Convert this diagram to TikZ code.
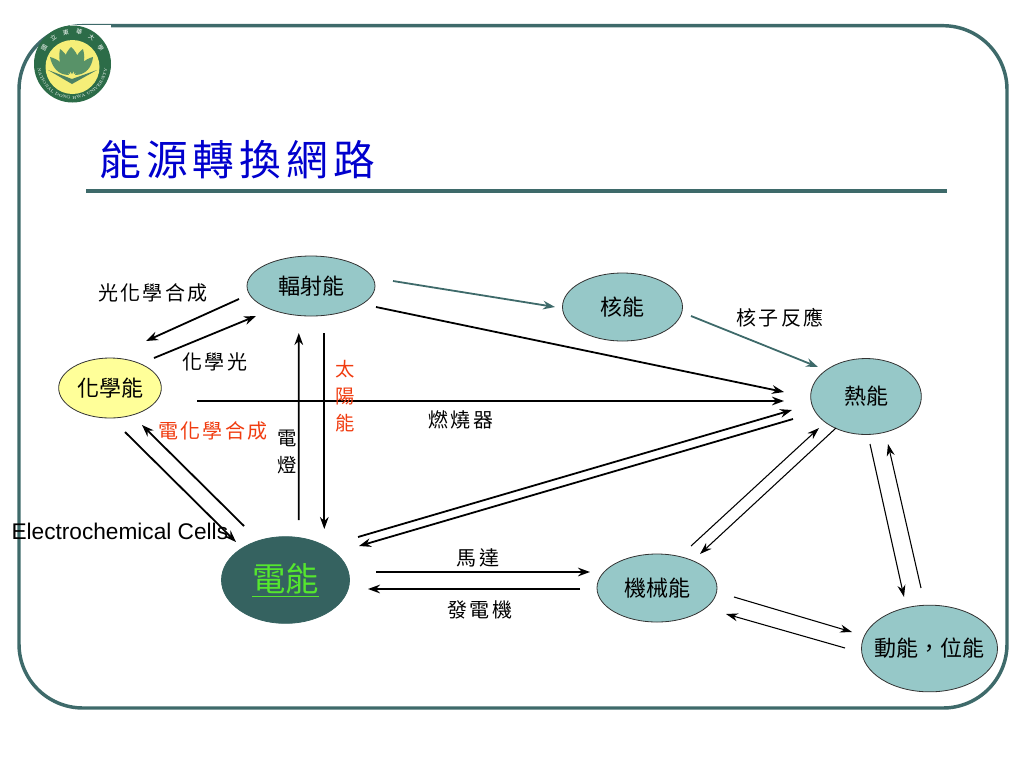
\documentclass[tikz,border=0pt]{standalone}
\usepackage{fontspec}
\setsansfont{Liberation Sans}
\newfontfamily\cjk{Noto Sans CJK TC}
\newfontfamily\cjkwide[LetterSpace=12]{Noto Sans CJK TC}
\usetikzlibrary{shapes.geometric,arrows.meta,decorations.text,calc}

\definecolor{frameteal}{RGB}{62,106,106}
\definecolor{nodeteal}{RGB}{150,200,200}
\definecolor{darkteal}{RGB}{53,98,96}
\definecolor{chemyellow}{RGB}{255,255,153}
\definecolor{labelred}{RGB}{240,60,16}
\definecolor{elecgreen}{RGB}{85,230,46}
\definecolor{titleblue}{RGB}{0,0,205}
\definecolor{logogreen}{RGB}{44,108,72}
\definecolor{leafgreen}{RGB}{88,146,104}
\definecolor{logoyellow}{RGB}{245,238,120}

\tikzset{every picture/.style={line width=0.75pt}}
\tikzset{
  energy/.style={ellipse,draw=black!80,fill=nodeteal,inner sep=0pt,line width=0.6pt,font=\cjk\fontsize{16.5}{18}\selectfont},
  caption/.style={inner sep=0.75pt,font=\cjkwide\fontsize{15}{20}\selectfont,align=center},
  conn/.style={line width=1.35pt,-{Stealth[length=9pt,width=6.5pt]}},
  thinconn/.style={line width=0.8pt,-{Stealth[length=9pt,width=6pt]}},
  tealconn/.style={line width=1.35pt,draw=frameteal,-{Stealth[length=9pt,width=6.5pt,fill=frameteal]}}
}

\begin{document}
\begin{tikzpicture}[x=0.75pt,y=0.75pt,yscale=-1,xscale=1]
  \useasboundingbox (0,0) rectangle (1024,768);

  %Frame
  \draw [frameteal,line width=2.6pt,rounded corners=48pt] (19,25.7) rectangle (1007,708);
  \fill [white] (70,25.2) rectangle (111,30);
  %Title rule
  \draw [frameteal,line width=2.8pt] (86,191) -- (947,191);

  %Logo
  \fill [logogreen] (72.5,64) circle [radius=38.5];
  \fill [logoyellow] (72.5,67) circle [radius=27];
  \fill [leafgreen] (72,74) .. controls (62,62) and (64,54) .. (71,47) .. controls (79,54) and (81,62) .. (72,74) -- cycle;
  \fill [leafgreen] (70,74) .. controls (60,70) and (58,60) .. (60,49) .. controls (66,53) and (72,62) .. (70,74) -- cycle;
  \fill [leafgreen] (74,74) .. controls (84,70) and (86,60) .. (83,49) .. controls (77,53) and (72,62) .. (74,74) -- cycle;
  \fill [leafgreen] (69,75) .. controls (58,75) and (52,67) .. (50,57) .. controls (58,59) and (66,65) .. (69,75) -- cycle;
  \fill [leafgreen] (75,75) .. controls (86,75) and (92,67) .. (93,57) .. controls (85,59) and (78,65) .. (75,75) -- cycle;
  \fill [logogreen!85] (48,70) -- (72,79) -- (97,70) -- (72,84) -- cycle;
  \path [decorate,decoration={text along path,text align=center,text color=white,
    text={|\fontsize{3.1}{4}\selectfont|NATIONAL DONG HWA UNIVERSITY}}]
    (72.5,64) ++(172:35) arc [start angle=172,end angle=8,radius=35];
  \foreach \ch [count=\i] in {國,立,東,華,大,學}{
    \pgfmathsetmacro{\ang}{150-24*(\i-1)}
    \pgfmathsetmacro{\rot}{\ang-90}
    \node [text=white,inner sep=0pt,rotate=\rot,font=\cjk\fontsize{4.5}{5}\selectfont] at ($(72.5,64)+(-\ang:32.5)$) {\ch};
  }

  % Text Node
  \node (title) [anchor=west,inner sep=0pt,text=titleblue,font=\cjkwide\fontsize{31.3}{34}\selectfont] at (99,160) {能源轉換網路};

  %Energy nodes
  \node (rad) [energy,minimum width=96pt,minimum height=45pt] at (311,286) {輻射能};
  \node (nuc) [energy,minimum width=90pt,minimum height=51pt] at (622.5,307) {核能};
  \node (heat) [energy,minimum width=83pt,minimum height=57pt] at (866,396.5) {熱能};
  \node (chem) [energy,fill=chemyellow,minimum width=77pt,minimum height=45pt] at (110,388) {化學能};
  \node (elec) [energy,fill=darkteal,draw=darkteal,text=elecgreen,minimum width=96pt,minimum height=65pt,font=\cjk\fontsize{25}{27}\selectfont] at (285.5,580) {\underline{電能}};
  \node (mech) [energy,minimum width=90pt,minimum height=51pt] at (657,588) {機械能};
  \node (kin) [energy,minimum width=102pt,minimum height=65pt] at (929.5,648.5) {\makebox[0pt]{動能\char"FF0C 位能}};

  %Connectors
  \draw [conn] ([shift={(-72,13)}]rad.center) -- ([shift={(36,-47)}]chem.center);
  \draw [conn] ([shift={(44,-30)}]chem.center) -- ([shift={(-55,30)}]rad.center);
  \draw [tealconn] ([shift={(82,-5)}]rad.center) -- ([shift={(-67.5,0)}]nuc.center);
  \draw [tealconn] ([shift={(68.5,9)}]nuc.center) -- ([shift={(-48,-29.5)}]heat.center);
  \draw [conn] ([shift={(65,21)}]rad.center) -- ([shift={(-82,-4.5)}]heat.center);
  \draw [conn] ([shift={(87,13)}]chem.center) -- ([shift={(-82,4.5)}]heat.center);
  \draw [conn] ([shift={(13.3,-60)}]elec.center) -- ([shift={(-12.2,47)}]rad.center);
  \draw [conn] ([shift={(13.3,47)}]rad.center) -- ([shift={(38.8,-51)}]elec.center);
  \draw [conn] ([shift={(72.5,-43)}]elec.center) -- ([shift={(-74,13.5)}]heat.center);
  \draw [conn] ([shift={(-73,22.5)}]heat.center) -- ([shift={(73.5,-34)}]elec.center);
  \draw [conn] ([shift={(15,44)}]chem.center) -- ([shift={(-49.5,-38)}]elec.center);
  \draw [conn] ([shift={(-41.5,-54)}]elec.center) -- ([shift={(32,37)}]chem.center);
  \draw [conn] ([shift={(90.5,-8)}]elec.center) -- ([shift={(-67,-16)}]mech.center);
  \draw [conn] ([shift={(-77,1)}]mech.center) -- ([shift={(82.5,9)}]elec.center);
  \draw [thinconn] ([shift={(34,-42)}]mech.center) -- ([shift={(-47,31.5)}]heat.center);
  \draw [thinconn] ([shift={(-30,31.5)}]heat.center) -- ([shift={(43,-34)}]mech.center);
  \draw [thinconn] ([shift={(4,47.5)}]heat.center) -- ([shift={(-25.5,-51.5)}]kin.center);
  \draw [thinconn] ([shift={(-8.5,-60.5)}]kin.center) -- ([shift={(22,47.5)}]heat.center);
  \draw [thinconn] ([shift={(77,9)}]mech.center) -- ([shift={(-77.5,-16.5)}]kin.center);
  \draw [thinconn] ([shift={(-84.5,-0.5)}]kin.center) -- ([shift={(69,26)}]mech.center);

  % Text Node
  \node (photo) [caption,anchor=center] at (153,293) {光化學合成};
  % Text Node
  \node (chemlight) [caption] at (215,362) {化學光};
  % Text Node
  \node (nuclear) [caption] at (780,318) {核子反應};
  % Text Node
  \node (burner) [caption] at (461,420) {燃燒器};
  % Text Node
  \node (electro) [caption,text=labelred] at (213,431) {電化學合成};
  % Text Node
  \node (solar) [caption,text=labelred,font=\cjk\fontsize{14.5}{20.2}\selectfont] at (345,396) {太\\陽\\能};
  % Text Node
  \node (lamp) [caption,font=\cjk\fontsize{14.5}{20.8}\selectfont] at (287,452) {電\\燈};
  % Text Node
  \node (motor) [caption] at (478,558) {馬達};
  % Text Node
  \node (generator) [caption] at (480,610) {發電機};
  % Text Node
  \node (cells) [inner sep=0pt,anchor=west,font=\sffamily\fontsize{17}{18}\selectfont] at (11,531) {Electrochemical Cells};
\end{tikzpicture}
\end{document}
